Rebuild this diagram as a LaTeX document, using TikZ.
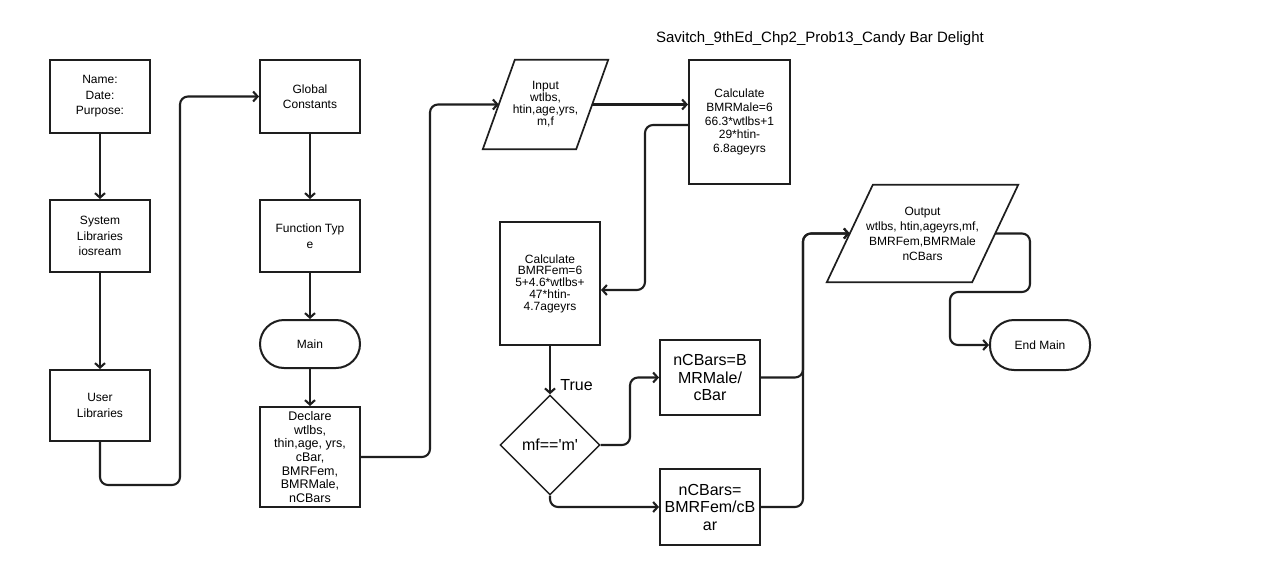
\documentclass[tikz,border=0pt]{standalone}
\usepackage{fontspec}
\setmainfont{Liberation Sans}
\usetikzlibrary{arrows.meta,shapes.geometric}
\definecolor{ink}{HTML}{1E1E1E}
\begin{document}
\begin{tikzpicture}[x=1pt,y=-1pt,
  box/.style={draw=ink, line width=2pt, minimum width=100pt, align=center, inner sep=0pt,
              font=\fontsize{12}{15.5}\selectfont},
  term/.style={box, rounded corners=24pt, minimum height=48pt},
  io/.style={align=center, inner sep=0pt, font=\fontsize{12}{12}\selectfont},
  big/.style={font=\fontsize{16}{17.5}\selectfont},
  conn/.style={draw=ink, line width=2.1pt, rounded corners=8pt,
               -{Straight Barb[length=4.5pt,width=10pt]}},
]
\useasboundingbox[fill=white] (0,0) rectangle (1266,565);

% title
\node[font=\fontsize{15}{15}\selectfont] (title) at (820,39) {Savitch\_9thEd\_Chp2\_Prob13\_Candy Bar Delight};

% left column
\node[box, minimum height=73pt] (hdr) at (100,96.5) {Name:\\Date:\\Purpose:};
\node[box, minimum height=72pt] (sys) at (100,236) {System\\Libraries\\iosream};
\node[box, minimum height=71pt] (usr) at (100,405.5) {User\\Libraries};

% second column
\node[box, minimum height=73pt] (glob) at (310,96.5) {Global\\Constants};
\node[box, minimum height=72pt] (func) at (310,236) {Function Typ\\e};
\node[term] (main) at (310,344) {Main};
\node[box, minimum height=100pt, font=\fontsize{12.5}{13.6}\selectfont] (decl) at (310,457)
  {Declare\\wtlbs,\\thin,age, yrs,\\cBar,\\BMRFem,\\BMRMale,\\nCBars};

% input
\node[io, minimum width=93pt, minimum height=89pt] (inp) at (545.5,104.5) {Input\\wtlbs,\\htin,age,yrs,\\m,f};
\draw[draw=ink, line width=1.7pt]
  ([xshift=16pt]inp.north west) -- ([xshift=16pt]inp.north east)
  -- ([xshift=-16pt]inp.south east) -- ([xshift=-16pt]inp.south west) -- cycle;

% calculations
\node[box, minimum width=101pt, minimum height=124pt, font=\fontsize{12}{13.8}\selectfont] (male) at (739.5,122)
  {Calculate\\BMRMale=6\\66.3*wtlbs+1\\29*htin-\\6.8ageyrs};
\node[box, minimum height=123pt, font=\fontsize{12}{11.8}\selectfont] (fem) at (550,283.5)
  {Calculate\\BMRFem=6\\5+4.6*wtlbs+\\47*htin-\\4.7ageyrs};

% decision
\node[diamond, draw=ink, line width=1.4pt, minimum width=100pt, minimum height=100pt, inner sep=0pt, big]
  (dia) at (550,445) {mf==\textquotesingle m\textquotesingle};

% candy bar counts
\node[box, big, minimum height=75pt] (nm) at (710,377.5) {nCBars=B\\MRMale/\\cBar};
\node[box, big, minimum height=76pt] (nf) at (710,507) {nCBars=\\BMRFem/cB\\ar};

% output
\node[io, font=\fontsize{12}{15}\selectfont, minimum width=145pt, minimum height=97pt] (out) at (922.5,233.5)
  {Output\\wtlbs, htin,ageyrs,mf,\\BMRFem,BMRMale\\nCBars};
\draw[draw=ink, line width=1.7pt]
  ([xshift=23pt]out.north west) -- ([xshift=23pt]out.north east)
  -- ([xshift=-23pt]out.south east) -- ([xshift=-23pt]out.south west) -- cycle;

\node[term, minimum height=50pt] (endm) at (1040,345) {End Main};

% connectors
\draw[conn] (hdr) -- (sys);
\draw[conn] (sys) -- (usr);
\draw[conn] (usr.south) |- (180,485) |- (glob.west);
\draw[conn] (glob) -- (func);
\draw[conn] (func) -- (main);
\draw[conn] (main) -- (decl);
\draw[conn] (decl.east) -- (430,457) |- (inp.west);
\draw[conn] (inp.east) -- (inp.east -| male.west);
\draw[conn] ([yshift=-3pt]male.west) -| (645,290) -- ([yshift=-6.5pt]fem.east);
\draw[conn] (fem.south) -- (dia.north) node[pos=0.8, right=6pt, big] (tl) {True};
\draw[conn] (dia.east) -- (630,445) |- (nm.west);
\draw[conn] (dia.south) |- (nf.west);
\draw[conn] (nf.east) -- (803,507) |- (out.west);
\draw[conn] (nm.east) -- (803,377.5) |- (out.west);
\draw[conn] (out.east) -| (1030,292) -- (950,292) |- (endm.west);
\end{tikzpicture}
\end{document}
